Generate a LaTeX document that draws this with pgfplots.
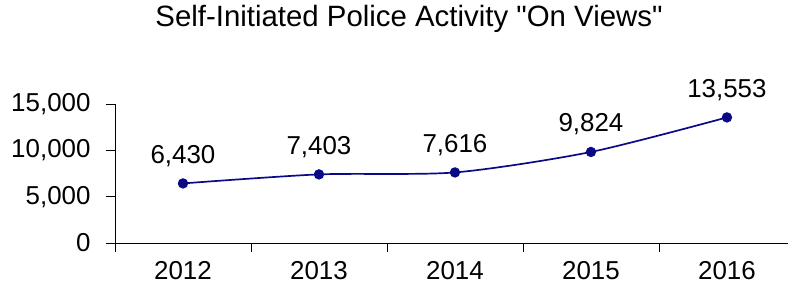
\documentclass[border=0pt]{standalone}
\usepackage{pgfplots}
\pgfplotsset{compat=1.18}
\usepackage{fontspec}
\setmainfont{Liberation Sans}[Ligatures=TeXOff]
\definecolor{linenavy}{RGB}{10,10,135}
\begin{document}
\begin{tikzpicture}
\pgfplotsset{/pgf/number format/.cd, 1000 sep={,}, assume math mode=true}
\begin{axis}[
  at={(0,0)}, anchor=south west,
  scale only axis,
  width=673bp, height=139bp,
  xmin=-0.5, xmax=4.449,
  ymin=0, ymax=15000,
  axis lines=left,
  axis line style={-, black, line width=0.8pt},
  clip=false,
  ytick={0,5000,10000,15000},
  scaled y ticks=false,
  tick align=outside,
  major tick length=9bp,
  tick style={black, line width=0.8pt},
  xtick={-0.5,0.5,1.5,2.5,3.5},
  xticklabels={},
  extra x ticks={0,1,2,3,4},
  extra x tick labels={2012,2013,2014,2015,2016},
  extra x tick style={major tick length=0pt, xticklabel style={yshift=-15bp}},
  ticklabel style={font=\fontsize{26}{30}\selectfont},
  yticklabel style={xshift=-12bp},
  nodes near coords={\pgfmathprintnumber{\pgfplotspointmeta}},
  every node near coord/.append style={font=\fontsize{26}{30}\selectfont, anchor=south, inner sep=0pt, yshift=16bp, text=black},
]
\addplot[color=linenavy, line width=1.7pt, smooth, tension=0.45, mark=*, mark size=4.3bp, mark options={fill=linenavy, draw=linenavy}]
  coordinates {(0,6430) (1,7403) (2,7616) (3,9824) (4,13553)};
\end{axis}
\node[font=\fontsize{29.5}{34}\selectfont, anchor=center] at (294bp,224bp) {Self-Initiated Police Activity "On Views"};
\pgfresetboundingbox
\path[use as bounding box] (-115bp,-50bp) rectangle (673bp,243bp);
\end{tikzpicture}
\end{document}
